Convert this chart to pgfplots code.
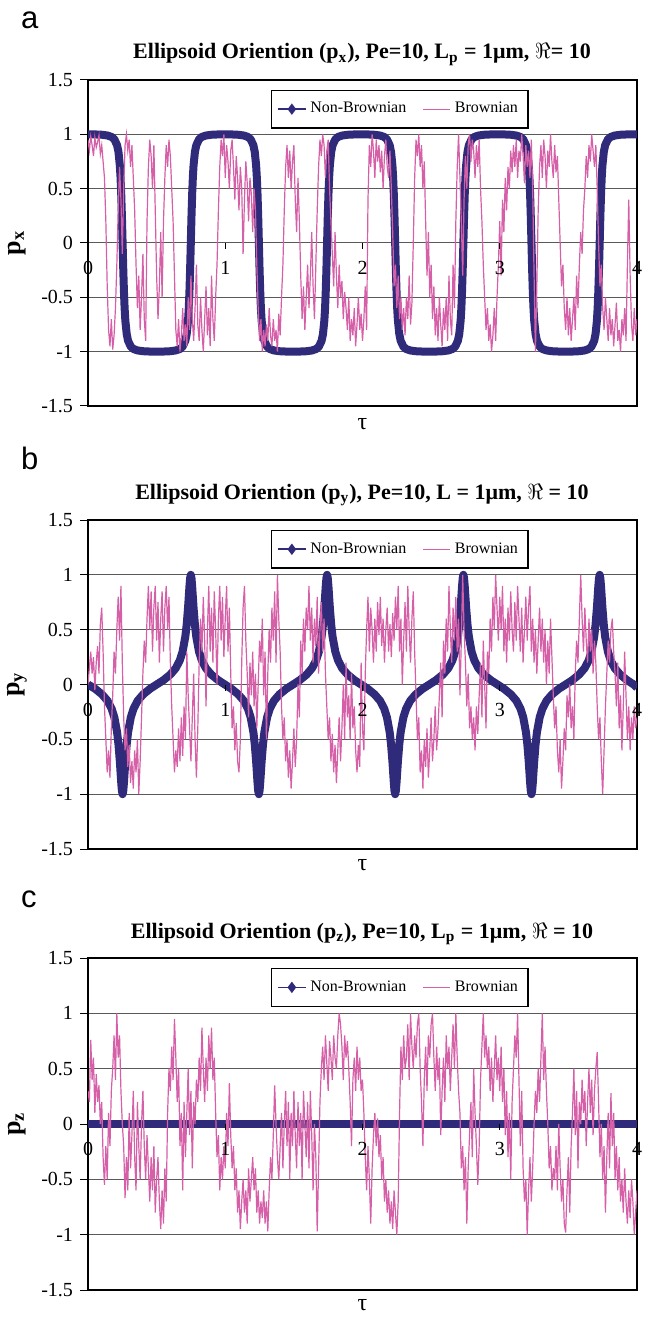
\documentclass[border=0pt]{standalone}
\usepackage{fontspec}
\setmainfont{Liberation Serif}
\newfontfamily\panelfont{Liberation Sans}
\usepackage{pgfplots}
\pgfplotsset{compat=1.18}

\definecolor{nbblue}{RGB}{48,42,122}
\definecolor{bpink}{RGB}{214,96,168}

\pgfplotsset{
  orient/.style={
    scale only axis, width=274.5pt,
    xmin=0, xmax=4, ymin=-1.5, ymax=1.5,
    xtick=\empty,
    ytick={-1.5,-1,-0.5,0,0.5,1,1.5},
    yticklabels={-1.5,-1,-0.5,0,0.5,1,1.5},
    ytick pos=left, ytick align=outside, major tick length=4pt,
    tick style={black, line width=0.5pt},
    ymajorgrids, grid style={black!65, line width=0.5pt},
    axis line style={black, line width=0.8pt},
    yticklabel style={font=\fontsize{10}{12}\selectfont},
    ylabel style={font=\bfseries\fontsize{13}{15}\selectfont, at={(rel axis cs:0,0.5)}, anchor=center, yshift=35.5pt},
    xlabel style={font=\fontsize{12}{14}\selectfont, at={(rel axis cs:0.5,0)}, anchor=base, inner sep=0pt},
    xlabel={τ},
    legend style={at={(rel axis cs:0.333,0.97)}, anchor=north west, draw=black, line width=0.6pt,
      font=\fontsize{8}{9}\selectfont, legend columns=2, inner xsep=3pt, inner ysep=4pt,
      /tikz/every even column/.append style={column sep=6pt}},
    legend image code/.code={\draw[mark repeat=2,mark phase=2,##1] plot coordinates {(0cm,0cm) (0.24cm,0cm) (0.48cm,0cm)};},
    clip mode=individual,
  },
  nb/.style={nbblue, line width=4pt, line join=round, no marks, forget plot},
  br/.style={bpink, line width=0.6pt, no marks},
}

\newcommand{\xnums}{%
  \pgfplotsinvokeforeach{0,1,2,3,4}{\node[font=\fontsize{10}{12}\selectfont] at (axis cs:##1,0) [yshift=-12.5pt] {##1};}%
  \pgfplotsinvokeforeach{1,2,3,4}{\draw[line width=0.5pt] (axis cs:##1,0) -- ++(0pt,-3pt);}%
}

\begin{document}
\begin{tikzpicture}
\useasboundingbox (0,0) rectangle (322pt,-660pt);

% ---------------- panel a : px
\node[font=\panelfont\fontsize{15.5}{16}\selectfont, anchor=base west] at (7pt,-14.5pt) {a};
\node[font=\bfseries\fontsize{11}{13}\selectfont, anchor=base] at (181pt,-29.5pt)
  {Ellipsoid Oriention (p\textsubscript{x}), Pe=10, L\textsubscript{p} = 1μm, $\Re$= 10};
\begin{axis}[orient, at={(44pt,-40pt)}, anchor=north west, height=163pt, ylabel={p\textsubscript{x}},
  xlabel style={yshift=-12pt}]
\addplot[nb] coordinates {(0,1)
(0.052,0.999)(0.102,0.996)(0.142,0.989)(0.172,0.976)(0.192,0.954)(0.212,0.900)(0.222,0.838)(0.232,0.713)(0.237,0.606)(0.242,0.452)(0.247,0.246)(0.252,0)(0.257,-0.246)(0.262,-0.452)(0.267,-0.606)(0.272,-0.713)(0.282,-0.838)(0.292,-0.900)(0.312,-0.954)(0.332,-0.976)(0.362,-0.989)(0.402,-0.996)(0.452,-0.999)(0.500,-1)
(0.549,-0.999)(0.599,-0.996)(0.639,-0.989)(0.669,-0.976)(0.689,-0.954)(0.709,-0.900)(0.719,-0.838)(0.729,-0.713)(0.734,-0.606)(0.739,-0.452)(0.744,-0.246)(0.749,0)(0.754,0.246)(0.759,0.452)(0.764,0.606)(0.769,0.713)(0.779,0.838)(0.789,0.900)(0.809,0.954)(0.829,0.976)(0.859,0.989)(0.899,0.996)(0.949,0.999)(0.997,1)
(1.045,0.999)(1.095,0.996)(1.135,0.989)(1.165,0.976)(1.185,0.954)(1.205,0.900)(1.215,0.838)(1.225,0.713)(1.230,0.606)(1.235,0.452)(1.240,0.246)(1.245,0)(1.250,-0.246)(1.255,-0.452)(1.260,-0.606)(1.265,-0.713)(1.275,-0.838)(1.285,-0.900)(1.305,-0.954)(1.325,-0.976)(1.355,-0.989)(1.395,-0.996)(1.445,-0.999)(1.494,-1)
(1.542,-0.999)(1.592,-0.996)(1.632,-0.989)(1.662,-0.976)(1.682,-0.954)(1.702,-0.900)(1.712,-0.838)(1.722,-0.713)(1.727,-0.606)(1.732,-0.452)(1.737,-0.246)(1.742,0)(1.747,0.246)(1.752,0.452)(1.757,0.606)(1.762,0.713)(1.772,0.838)(1.782,0.900)(1.802,0.954)(1.822,0.976)(1.852,0.989)(1.892,0.996)(1.942,0.999)(1.990,1)
(2.038,0.999)(2.088,0.996)(2.128,0.989)(2.158,0.976)(2.178,0.954)(2.198,0.900)(2.208,0.838)(2.218,0.713)(2.223,0.606)(2.228,0.452)(2.233,0.246)(2.238,0)(2.243,-0.246)(2.248,-0.452)(2.253,-0.606)(2.258,-0.713)(2.268,-0.838)(2.278,-0.900)(2.298,-0.954)(2.318,-0.976)(2.348,-0.989)(2.388,-0.996)(2.438,-0.999)(2.487,-1)
(2.535,-0.999)(2.585,-0.996)(2.625,-0.989)(2.655,-0.976)(2.675,-0.954)(2.695,-0.900)(2.705,-0.838)(2.715,-0.713)(2.720,-0.606)(2.725,-0.452)(2.730,-0.246)(2.735,0)(2.740,0.246)(2.745,0.452)(2.750,0.606)(2.755,0.713)(2.765,0.838)(2.775,0.900)(2.795,0.954)(2.815,0.976)(2.845,0.989)(2.885,0.996)(2.935,0.999)(2.983,1)
(3.031,0.999)(3.081,0.996)(3.121,0.989)(3.151,0.976)(3.171,0.954)(3.191,0.900)(3.201,0.838)(3.211,0.713)(3.216,0.606)(3.221,0.452)(3.226,0.246)(3.231,0)(3.236,-0.246)(3.241,-0.452)(3.246,-0.606)(3.251,-0.713)(3.261,-0.838)(3.271,-0.900)(3.291,-0.954)(3.311,-0.976)(3.341,-0.989)(3.381,-0.996)(3.431,-0.999)(3.480,-1)
(3.528,-0.999)(3.578,-0.996)(3.618,-0.989)(3.648,-0.976)(3.668,-0.954)(3.688,-0.900)(3.698,-0.838)(3.708,-0.713)(3.713,-0.606)(3.718,-0.452)(3.723,-0.246)(3.728,0)(3.733,0.246)(3.738,0.452)(3.743,0.606)(3.748,0.713)(3.758,0.838)(3.768,0.900)(3.788,0.954)(3.808,0.976)(3.838,0.989)(3.878,0.996)(3.928,0.999)(3.976,1)(4.0,1)};
\addlegendimage{nbblue, line width=0.8pt, mark=diamond*, mark size=2.2pt}
\addlegendentry{Non-Brownian}
\addplot[br] coordinates {
(0.00,0.95)(0.01,0.85)(0.02,0.98)(0.03,0.90)(0.04,0.80)(0.05,0.97)(0.06,0.88)(0.07,0.93)(0.08,0.99)(0.09,0.82)
(0.10,0.90)(0.11,0.75)(0.12,0.60)(0.13,0.20)(0.14,-0.40)(0.15,-0.80)(0.16,-0.95)(0.17,-0.70)(0.18,-0.98)(0.19,-0.85)
(0.20,-0.60)(0.21,-0.20)(0.22,0.30)(0.23,0.70)(0.24,0.40)(0.25,-0.10)(0.26,0.50)(0.27,0.90)(0.28,1.00)(0.29,0.85)
(0.30,0.95)(0.31,0.70)(0.32,0.90)(0.33,0.60)(0.34,0.30)(0.35,-0.20)(0.36,-0.60)(0.37,-0.30)(0.38,-0.80)(0.39,-0.50)
(0.40,-0.10)(0.41,-0.70)(0.42,-0.90)(0.43,0.20)(0.44,0.70)(0.45,0.95)(0.46,0.80)(0.47,0.50)(0.48,0.90)(0.49,0.30)
(0.50,-0.30)(0.51,-0.70)(0.52,-0.40)(0.53,0.10)(0.54,-0.50)(0.55,0.20)(0.56,0.60)(0.57,0.90)(0.58,0.70)(0.59,0.95)
(0.60,0.80)(0.61,0.50)(0.62,0.20)(0.63,-0.30)(0.64,-0.80)(0.65,-0.95)(0.66,-0.70)(0.67,-1.00)(0.68,-0.85)(0.69,-0.60)
(0.70,-0.90)(0.71,-0.75)(0.72,-0.95)(0.73,-0.50)(0.74,-0.80)(0.75,-0.30)(0.76,-0.70)(0.77,-0.90)(0.78,-0.60)(0.79,-0.20)
(0.80,-0.75)(0.81,-0.90)(0.82,-0.50)(0.83,-0.80)(0.84,-1.00)(0.85,-0.70)(0.86,-0.40)(0.87,-0.85)(0.88,-0.60)(0.89,-0.95)
(0.90,-0.30)(0.91,-0.70)(0.92,-0.90)(0.93,-0.50)(0.94,-0.20)(0.95,0.30)(0.96,0.70)(0.97,0.95)(0.98,0.80)(0.99,1.00)
(1.00,0.60)(1.01,0.90)(1.02,0.75)(1.03,0.50)(1.04,0.85)(1.05,0.95)(1.06,0.70)(1.07,0.40)(1.08,0.80)(1.09,0.60)
(1.10,0.30)(1.11,0.70)(1.12,0.50)(1.13,-0.10)(1.14,0.40)(1.15,0.75)(1.16,0.55)(1.17,0.20)(1.18,0.60)(1.19,0.45)
(1.20,0.10)(1.21,0.50)(1.22,0.30)(1.23,-0.20)(1.24,-0.60)(1.25,-0.90)(1.26,-0.70)(1.27,-1.00)(1.28,-0.80)(1.29,-0.95)
(1.30,-0.75)(1.31,-0.90)(1.32,-0.60)(1.33,-0.85)(1.34,-0.95)(1.35,-0.70)(1.36,-0.90)(1.37,-0.80)(1.38,-1.00)(1.39,-0.65)
(1.40,-0.85)(1.41,-0.50)(1.42,-0.20)(1.43,0.30)(1.44,0.70)(1.45,0.90)(1.46,0.60)(1.47,0.85)(1.48,0.50)(1.49,0.75)
(1.50,0.90)(1.51,0.40)(1.52,0.10)(1.53,0.60)(1.54,0.20)(1.55,-0.30)(1.56,-0.70)(1.57,-0.40)(1.58,-0.80)(1.59,-0.50)
(1.60,-0.20)(1.61,-0.60)(1.62,-0.30)(1.63,0.10)(1.64,-0.40)(1.65,-0.70)(1.66,-0.20)(1.67,0.30)(1.68,0.70)(1.69,0.95)
(1.70,0.80)(1.71,1.00)(1.72,0.90)(1.73,0.60)(1.74,0.85)(1.75,0.95)(1.76,0.50)(1.77,0.20)(1.78,-0.10)(1.79,-0.40)
(1.80,0.10)(1.81,-0.30)(1.82,-0.60)(1.83,-0.20)(1.84,-0.50)(1.85,-0.35)(1.86,-0.70)(1.87,-0.45)(1.88,-0.60)(1.89,-0.80)
(1.90,-0.50)(1.91,-0.90)(1.92,-0.70)(1.93,-0.85)(1.94,-0.60)(1.95,-0.95)(1.96,-0.75)(1.97,-0.50)(1.98,-0.80)(1.99,-0.65)
(2.00,-0.90)(2.01,-0.70)(2.02,-0.40)(2.03,-0.80)(2.04,0.40)(2.05,0.90)(2.06,0.70)(2.07,1.00)(2.08,0.85)(2.09,0.60)
(2.10,0.95)(2.11,0.75)(2.12,0.90)(2.13,0.65)(2.14,0.85)(2.15,0.50)(2.16,0.80)(2.17,0.95)(2.18,0.70)(2.19,0.60)
(2.20,0.85)(2.21,0.50)(2.22,0.10)(2.23,-0.40)(2.24,-0.20)(2.25,-0.60)(2.26,-0.30)(2.27,-0.70)(2.28,-0.50)(2.29,-0.80)
(2.30,-0.60)(2.31,-0.85)(2.32,-0.50)(2.33,-0.70)(2.34,-0.30)(2.35,-0.75)(2.36,-0.55)(2.37,0.00)(2.38,0.60)(2.39,0.95)
(2.40,0.80)(2.41,1.00)(2.42,0.70)(2.43,0.90)(2.44,0.50)(2.45,0.75)(2.46,0.20)(2.47,-0.30)(2.48,0.10)(2.49,-0.50)
(2.50,-0.20)(2.51,-0.70)(2.52,-0.40)(2.53,-0.85)(2.54,-0.60)(2.55,-0.90)(2.56,-0.50)(2.57,-0.75)(2.58,-0.95)(2.59,-0.60)
(2.60,-0.80)(2.61,-0.50)(2.62,-0.90)(2.63,-0.30)(2.64,-0.70)(2.65,-0.85)(2.66,-0.20)(2.67,-0.60)(2.68,0.20)(2.69,0.70)
(2.70,1.00)(2.71,0.60)(2.72,0.20)(2.73,-0.30)(2.74,0.40)(2.75,0.80)(2.76,0.50)(2.77,0.90)(2.78,1.00)(2.79,0.75)
(2.80,0.95)(2.81,0.85)(2.82,0.60)(2.83,0.90)(2.84,0.70)(2.85,0.95)(2.86,0.50)(2.87,0.20)(2.88,-0.20)(2.89,-0.50)
(2.90,-0.80)(2.91,-0.60)(2.92,-0.90)(2.93,-0.75)(2.94,-1.00)(2.95,-0.85)(2.96,-0.60)(2.97,-0.90)(2.98,-0.50)(2.99,-0.20)
(3.00,0.20)(3.01,-0.30)(3.02,0.40)(3.03,0.10)(3.04,0.60)(3.05,0.30)(3.06,0.70)(3.07,0.50)(3.08,0.85)(3.09,0.65)
(3.10,0.90)(3.11,0.70)(3.12,0.95)(3.13,0.60)(3.14,0.85)(3.15,0.75)(3.16,1.00)(3.17,0.80)(3.18,0.55)(3.19,0.90)
(3.20,0.70)(3.21,0.85)(3.22,0.60)(3.23,0.95)(3.24,0.50)(3.25,-0.30)(3.26,-1.00)(3.27,-0.40)(3.28,0.30)(3.29,0.70)
(3.30,0.90)(3.31,0.60)(3.32,0.95)(3.33,0.80)(3.34,0.50)(3.35,0.85)(3.36,0.70)(3.37,1.00)(3.38,0.75)(3.39,0.60)
(3.40,0.90)(3.41,0.65)(3.42,0.80)(3.43,0.40)(3.44,0.00)(3.45,-0.40)(3.46,-0.20)(3.47,-0.60)(3.48,-0.80)(3.49,-0.50)
(3.50,-0.85)(3.51,-0.60)(3.52,-0.90)(3.53,-0.70)(3.54,-0.50)(3.55,-0.80)(3.56,-0.30)(3.57,-0.60)(3.58,-0.20)(3.59,0.10)
(3.60,-0.10)(3.61,0.30)(3.62,0.50)(3.63,0.80)(3.64,0.60)(3.65,0.90)(3.66,0.75)(3.67,1.00)(3.68,0.85)(3.69,0.70)
(3.70,0.90)(3.71,0.50)(3.72,0.00)(3.73,-0.40)(3.74,-0.20)(3.75,-0.60)(3.76,-0.80)(3.77,-0.50)(3.78,-0.70)(3.79,-0.90)
(3.80,-0.60)(3.81,-0.85)(3.82,-0.70)(3.83,-0.95)(3.84,-0.75)(3.85,-0.55)(3.86,-0.90)(3.87,-0.80)(3.88,-1.00)(3.89,-0.70)
(3.90,-0.85)(3.91,-0.60)(3.92,-0.90)(3.93,-0.20)(3.94,0.40)(3.95,-0.30)(3.96,-0.75)(3.97,-0.90)(3.98,-0.60)(3.99,-0.85)
(4.00,-0.70)};
\addlegendentry{Brownian}
\xnums
\end{axis}

% ---------------- panel b : py
\node[font=\panelfont\fontsize{15.5}{16}\selectfont, anchor=base west] at (7pt,-234.5pt) {b};
\node[font=\bfseries\fontsize{11}{13}\selectfont, anchor=base] at (181pt,-249.5pt)
  {Ellipsoid Oriention (p\textsubscript{y}), Pe=10, L = 1μm, $\Re$ = 10};
\begin{axis}[orient, at={(44pt,-260pt)}, anchor=north west, height=164.5pt, ylabel={p\textsubscript{y}},
  xlabel style={yshift=-10.5pt}]
\addplot[nb] coordinates {(0,0)
(0.052,-0.039)(0.102,-0.090)(0.142,-0.148)(0.172,-0.220)(0.192,-0.299)(0.212,-0.435)(0.222,-0.545)(0.232,-0.701)(0.237,-0.796)(0.242,-0.892)(0.247,-0.969)(0.252,-1)(0.257,-0.969)(0.262,-0.892)(0.267,-0.796)(0.272,-0.701)(0.282,-0.545)(0.292,-0.435)(0.312,-0.299)(0.332,-0.220)(0.362,-0.148)(0.402,-0.090)(0.452,-0.039)(0.500,0)
(0.549,0.039)(0.599,0.090)(0.639,0.148)(0.669,0.220)(0.689,0.299)(0.709,0.435)(0.719,0.545)(0.729,0.701)(0.734,0.796)(0.739,0.892)(0.744,0.969)(0.749,1)(0.754,0.969)(0.759,0.892)(0.764,0.796)(0.769,0.701)(0.779,0.545)(0.789,0.435)(0.809,0.299)(0.829,0.220)(0.859,0.148)(0.899,0.090)(0.949,0.039)(0.997,0)
(1.045,-0.039)(1.095,-0.090)(1.135,-0.148)(1.165,-0.220)(1.185,-0.299)(1.205,-0.435)(1.215,-0.545)(1.225,-0.701)(1.230,-0.796)(1.235,-0.892)(1.240,-0.969)(1.245,-1)(1.250,-0.969)(1.255,-0.892)(1.260,-0.796)(1.265,-0.701)(1.275,-0.545)(1.285,-0.435)(1.305,-0.299)(1.325,-0.220)(1.355,-0.148)(1.395,-0.090)(1.445,-0.039)(1.494,0)
(1.542,0.039)(1.592,0.090)(1.632,0.148)(1.662,0.220)(1.682,0.299)(1.702,0.435)(1.712,0.545)(1.722,0.701)(1.727,0.796)(1.732,0.892)(1.737,0.969)(1.742,1)(1.747,0.969)(1.752,0.892)(1.757,0.796)(1.762,0.701)(1.772,0.545)(1.782,0.435)(1.802,0.299)(1.822,0.220)(1.852,0.148)(1.892,0.090)(1.942,0.039)(1.990,0)
(2.038,-0.039)(2.088,-0.090)(2.128,-0.148)(2.158,-0.220)(2.178,-0.299)(2.198,-0.435)(2.208,-0.545)(2.218,-0.701)(2.223,-0.796)(2.228,-0.892)(2.233,-0.969)(2.238,-1)(2.243,-0.969)(2.248,-0.892)(2.253,-0.796)(2.258,-0.701)(2.268,-0.545)(2.278,-0.435)(2.298,-0.299)(2.318,-0.220)(2.348,-0.148)(2.388,-0.090)(2.438,-0.039)(2.487,0)
(2.535,0.039)(2.585,0.090)(2.625,0.148)(2.655,0.220)(2.675,0.299)(2.695,0.435)(2.705,0.545)(2.715,0.701)(2.720,0.796)(2.725,0.892)(2.730,0.969)(2.735,1)(2.740,0.969)(2.745,0.892)(2.750,0.796)(2.755,0.701)(2.765,0.545)(2.775,0.435)(2.795,0.299)(2.815,0.220)(2.845,0.148)(2.885,0.090)(2.935,0.039)(2.983,0)
(3.031,-0.039)(3.081,-0.090)(3.121,-0.148)(3.151,-0.220)(3.171,-0.299)(3.191,-0.435)(3.201,-0.545)(3.211,-0.701)(3.216,-0.796)(3.221,-0.892)(3.226,-0.969)(3.231,-1)(3.236,-0.969)(3.241,-0.892)(3.246,-0.796)(3.251,-0.701)(3.261,-0.545)(3.271,-0.435)(3.291,-0.299)(3.311,-0.220)(3.341,-0.148)(3.381,-0.090)(3.431,-0.039)(3.480,0)
(3.528,0.039)(3.578,0.090)(3.618,0.148)(3.648,0.220)(3.668,0.299)(3.688,0.435)(3.698,0.545)(3.708,0.701)(3.713,0.796)(3.718,0.892)(3.723,0.969)(3.728,1)(3.733,0.969)(3.738,0.892)(3.743,0.796)(3.748,0.701)(3.758,0.545)(3.768,0.435)(3.788,0.299)(3.808,0.220)(3.838,0.148)(3.878,0.090)(3.928,0.039)(3.976,0)(4.0,-0.03)};
\addlegendimage{nbblue, line width=0.8pt, mark=diamond*, mark size=2.2pt}
\addlegendentry{Non-Brownian}
\addplot[br] coordinates {
(0.00,0.00)(0.01,0.15)(0.02,0.30)(0.03,0.10)(0.04,0.25)(0.05,-0.05)(0.06,0.20)(0.07,0.35)(0.08,0.10)(0.09,0.55)
(0.10,0.70)(0.11,0.30)(0.12,-0.20)(0.13,-0.50)(0.14,-0.80)(0.15,-0.60)(0.16,-0.85)(0.17,-0.40)(0.18,-0.10)(0.19,0.30)
(0.20,0.10)(0.21,0.50)(0.22,0.80)(0.23,0.40)(0.24,0.90)(0.25,0.20)(0.26,-0.30)(0.27,-0.60)(0.28,-0.40)(0.29,-0.75)
(0.30,-0.55)(0.31,-0.90)(0.32,-0.70)(0.33,-0.95)(0.34,-0.60)(0.35,-0.80)(0.36,-0.50)(0.37,-1.00)(0.38,-0.70)(0.39,-0.30)
(0.40,0.10)(0.41,0.40)(0.42,0.20)(0.43,0.60)(0.44,0.90)(0.45,0.50)(0.46,0.85)(0.47,0.30)(0.48,0.70)(0.49,0.90)
(0.50,0.40)(0.51,0.75)(0.52,0.20)(0.53,0.60)(0.54,0.85)(0.55,0.30)(0.56,0.70)(0.57,0.90)(0.58,0.50)(0.59,0.80)
(0.60,0.20)(0.61,-0.20)(0.62,-0.50)(0.63,-0.80)(0.64,-0.60)(0.65,-0.75)(0.66,-0.40)(0.67,-0.70)(0.68,-0.30)(0.69,-0.65)
(0.70,-0.20)(0.71,-0.50)(0.72,0.30)(0.73,-0.10)(0.74,-0.40)(0.75,-0.70)(0.76,-0.30)(0.77,0.10)(0.78,-0.50)(0.79,-0.85)
(0.80,-0.40)(0.81,0.20)(0.82,0.60)(0.83,0.30)(0.84,0.80)(0.85,0.40)(0.86,-0.20)(0.87,0.50)(0.88,0.90)(0.89,0.30)
(0.90,0.70)(0.91,0.20)(0.92,0.85)(0.93,0.50)(0.94,0.00)(0.95,0.60)(0.96,0.90)(0.97,0.40)(0.98,0.80)(0.99,0.25)
(1.00,0.60)(1.01,0.90)(1.02,0.30)(1.03,0.70)(1.04,0.10)(1.05,-0.40)(1.06,-0.20)(1.07,-0.60)(1.08,-0.35)(1.09,-0.70)
(1.10,-0.80)(1.11,-0.50)(1.12,0.20)(1.13,0.70)(1.14,0.90)(1.15,0.40)(1.16,0.10)(1.17,-0.30)(1.18,0.20)(1.19,-0.10)
(1.20,0.30)(1.21,-0.20)(1.22,0.10)(1.23,-0.40)(1.24,0.00)(1.25,0.40)(1.26,0.20)(1.27,0.60)(1.28,-0.10)(1.29,0.30)
(1.30,-0.50)(1.31,0.10)(1.32,0.50)(1.33,0.20)(1.34,0.70)(1.35,0.40)(1.36,0.85)(1.37,0.20)(1.38,1.00)(1.39,0.60)
(1.40,0.30)(1.41,-0.20)(1.42,-0.50)(1.43,-0.30)(1.44,-0.70)(1.45,-0.50)(1.46,-0.85)(1.47,-0.60)(1.48,-0.95)(1.49,-0.70)
(1.50,-0.40)(1.51,-0.75)(1.52,-0.50)(1.53,0.00)(1.54,-0.30)(1.55,0.40)(1.56,0.10)(1.57,0.60)(1.58,0.30)(1.59,0.70)
(1.60,0.50)(1.61,0.90)(1.62,0.40)(1.63,0.70)(1.64,0.20)(1.65,0.60)(1.66,0.35)(1.67,0.80)(1.68,0.10)(1.69,0.50)
(1.70,0.75)(1.71,0.30)(1.72,0.60)(1.73,0.10)(1.74,-0.20)(1.75,-0.50)(1.76,-0.30)(1.77,-0.70)(1.78,-0.45)(1.79,-0.80)
(1.80,-0.55)(1.81,-0.90)(1.82,-0.60)(1.83,-0.30)(1.84,-0.70)(1.85,-0.40)(1.86,0.00)(1.87,-0.50)(1.88,0.20)(1.89,-0.30)
(1.90,-0.10)(1.91,-0.50)(1.92,0.10)(1.93,-0.40)(1.94,-0.20)(1.95,-0.60)(1.96,-0.80)(1.97,-0.55)(1.98,-0.75)(1.99,0.20)
(2.00,-0.40)(2.01,-0.60)(2.02,0.10)(2.03,0.50)(2.04,0.80)(2.05,0.30)(2.06,0.70)(2.07,0.50)(2.08,0.20)(2.09,0.60)
(2.10,0.30)(2.11,0.75)(2.12,0.45)(2.13,0.80)(2.14,0.35)(2.15,0.60)(2.16,0.20)(2.17,0.50)(2.18,0.70)(2.19,0.30)
(2.20,0.55)(2.21,0.25)(2.22,0.65)(2.23,0.40)(2.24,0.80)(2.25,0.50)(2.26,0.90)(2.27,0.30)(2.28,0.60)(2.29,0.00)
(2.30,0.40)(2.31,0.75)(2.32,0.30)(2.33,0.90)(2.34,0.50)(2.35,0.20)(2.36,0.60)(2.37,0.85)(2.38,0.30)(2.39,-0.10)
(2.40,-0.50)(2.41,-0.30)(2.42,-0.80)(2.43,-0.60)(2.44,-0.95)(2.45,-0.50)(2.46,-0.75)(2.47,-0.40)(2.48,-0.85)(2.49,-0.60)
(2.50,-0.30)(2.51,-0.70)(2.52,-0.50)(2.53,-0.20)(2.54,-0.60)(2.55,-0.40)(2.56,-0.10)(2.57,0.20)(2.58,-0.30)(2.59,0.40)
(2.60,0.10)(2.61,0.60)(2.62,0.30)(2.63,0.90)(2.64,0.50)(2.65,0.20)(2.66,0.70)(2.67,0.40)(2.68,0.80)(2.69,0.30)
(2.70,0.60)(2.71,-0.10)(2.72,0.40)(2.73,1.00)(2.74,0.50)(2.75,0.20)(2.76,-0.20)(2.77,0.10)(2.78,-0.40)(2.79,-0.20)
(2.80,-0.50)(2.81,-0.30)(2.82,-0.60)(2.83,-0.20)(2.84,-0.45)(2.85,-0.10)(2.86,0.20)(2.87,-0.30)(2.88,0.40)(2.89,0.00)
(2.90,-0.40)(2.91,0.30)(2.92,0.10)(2.93,0.60)(2.94,0.30)(2.95,0.80)(2.96,0.50)(2.97,1.00)(2.98,0.70)(2.99,0.40)
(3.00,0.80)(3.01,0.50)(3.02,0.90)(3.03,0.30)(3.04,0.60)(3.05,0.20)(3.06,0.70)(3.07,0.40)(3.08,0.85)(3.09,0.50)
(3.10,0.30)(3.11,0.75)(3.12,0.40)(3.13,0.90)(3.14,0.60)(3.15,0.30)(3.16,0.70)(3.17,0.20)(3.18,0.50)(3.19,0.80)
(3.20,0.40)(3.21,0.70)(3.22,0.90)(3.23,0.30)(3.24,0.60)(3.25,0.20)(3.26,0.50)(3.27,0.10)(3.28,0.40)(3.29,0.70)
(3.30,0.30)(3.31,0.60)(3.32,0.20)(3.33,0.50)(3.34,0.00)(3.35,0.40)(3.36,0.10)(3.37,0.60)(3.38,0.25)(3.39,-0.10)
(3.40,-0.40)(3.41,-0.20)(3.42,-0.60)(3.43,-0.80)(3.44,-0.50)(3.45,-0.95)(3.46,-0.70)(3.47,-0.40)(3.48,-0.60)(3.49,-0.10)
(3.50,-0.30)(3.51,0.00)(3.52,-0.40)(3.53,-0.20)(3.54,-0.50)(3.55,0.10)(3.56,0.40)(3.57,0.20)(3.58,0.60)(3.59,1.00)
(3.60,0.60)(3.61,0.30)(3.62,0.70)(3.63,0.40)(3.64,0.20)(3.65,0.60)(3.66,0.30)(3.67,0.50)(3.68,0.10)(3.69,0.40)
(3.70,0.20)(3.71,-0.20)(3.72,-0.50)(3.73,-0.30)(3.74,-0.70)(3.75,-1.00)(3.76,-0.60)(3.77,-0.20)(3.78,0.10)(3.79,0.40)
(3.80,0.20)(3.81,0.50)(3.82,0.60)(3.83,0.30)(3.84,0.10)(3.85,-0.20)(3.86,0.20)(3.87,-0.40)(3.88,-0.10)(3.89,-0.60)
(3.90,-0.20)(3.91,0.30)(3.92,-0.10)(3.93,-0.50)(3.94,-0.20)(3.95,-0.60)(3.96,-0.30)(3.97,-0.50)(3.98,-0.20)(3.99,-0.40)
(4.00,-0.30)};
\addlegendentry{Brownian}
\xnums
\end{axis}

% ---------------- panel c : pz
\node[font=\panelfont\fontsize{15.5}{16}\selectfont, anchor=base west] at (7pt,-453.5pt) {c};
\node[font=\bfseries\fontsize{11}{13}\selectfont, anchor=base] at (181pt,-469pt)
  {Ellipsoid Oriention (p\textsubscript{z}), Pe=10, L\textsubscript{p} = 1μm, $\Re$ = 10};
\begin{axis}[orient, at={(44pt,-479pt)}, anchor=north west, height=166pt, ylabel={p\textsubscript{z}},
  xlabel style={yshift=-10pt}]
\addplot[nb] coordinates {(0,0)(1,0)(2,0)(3,0)(4,0)};
\addlegendimage{nbblue, line width=0.8pt, mark=diamond*, mark size=2.2pt}
\addlegendentry{Non-Brownian}
\addplot[br] coordinates {
(0.00,0.30)(0.01,0.20)(0.02,0.76)(0.03,0.40)(0.04,0.60)(0.05,0.10)(0.06,0.45)(0.07,0.20)(0.08,0.35)(0.09,0.00)
(0.10,0.20)(0.11,-0.30)(0.12,-0.55)(0.13,-0.20)(0.14,-0.50)(0.15,0.10)(0.16,-0.20)(0.17,0.30)(0.18,0.50)(0.19,0.80)
(0.20,0.40)(0.21,1.00)(0.22,0.60)(0.23,0.80)(0.24,0.30)(0.25,0.00)(0.26,-0.20)(0.27,-0.67)(0.28,-0.30)(0.29,-0.60)
(0.30,0.10)(0.31,-0.40)(0.32,-0.10)(0.33,0.30)(0.34,-0.30)(0.35,-0.60)(0.36,0.20)(0.37,-0.20)(0.38,-0.50)(0.39,0.00)
(0.40,0.30)(0.41,-0.20)(0.42,-0.50)(0.43,-0.10)(0.44,-0.40)(0.45,-0.70)(0.46,-0.30)(0.47,-0.60)(0.48,-0.20)(0.49,-0.80)
(0.50,-0.50)(0.51,-0.30)(0.52,-0.70)(0.53,-0.95)(0.54,-0.60)(0.55,-0.90)(0.56,-0.40)(0.57,-0.70)(0.58,0.10)(0.59,0.50)
(0.60,0.30)(0.61,0.70)(0.62,0.40)(0.63,0.95)(0.64,0.60)(0.65,0.20)(0.66,0.50)(0.67,-0.20)(0.68,0.10)(0.69,-0.60)
(0.70,0.20)(0.71,-0.30)(0.72,0.10)(0.73,0.50)(0.74,-0.10)(0.75,0.30)(0.76,-0.40)(0.77,0.20)(0.78,0.00)(0.79,0.40)
(0.80,0.20)(0.81,0.60)(0.82,0.30)(0.83,0.87)(0.84,0.50)(0.85,0.20)(0.86,0.60)(0.87,0.30)(0.88,0.80)(0.89,0.50)
(0.90,0.87)(0.91,0.40)(0.92,0.60)(0.93,0.10)(0.94,-0.30)(0.95,-0.10)(0.96,-0.60)(0.97,-0.30)(0.98,-0.50)(0.99,-0.20)
(1.00,-0.40)(1.01,0.10)(1.02,-0.20)(1.03,0.37)(1.04,-0.10)(1.05,-0.40)(1.06,-0.20)(1.07,-0.60)(1.08,-0.40)(1.09,-0.80)
(1.10,-0.60)(1.11,-0.95)(1.12,-0.70)(1.13,-0.50)(1.14,-0.80)(1.15,-0.60)(1.16,-0.90)(1.17,-0.40)(1.18,-0.70)(1.19,-0.50)
(1.20,-0.30)(1.21,-0.60)(1.22,-0.40)(1.23,-0.80)(1.24,-0.60)(1.25,-0.90)(1.26,-0.70)(1.27,-0.85)(1.28,-0.60)(1.29,-0.90)
(1.30,-0.70)(1.31,-0.97)(1.32,-0.60)(1.33,-0.30)(1.34,-0.50)(1.35,-0.10)(1.36,0.35)(1.37,0.00)(1.38,-0.30)(1.39,-0.50)
(1.40,-0.20)(1.41,0.10)(1.42,-0.40)(1.43,0.00)(1.44,0.30)(1.45,-0.20)(1.46,0.20)(1.47,-0.50)(1.48,0.10)(1.49,-0.20)
(1.50,0.30)(1.51,-0.10)(1.52,-0.40)(1.53,0.20)(1.54,-0.20)(1.55,0.10)(1.56,-0.50)(1.57,0.30)(1.58,0.00)(1.59,-0.30)
(1.60,0.20)(1.61,-0.40)(1.62,0.30)(1.63,-0.10)(1.64,-0.60)(1.65,0.00)(1.66,-0.30)(1.67,-0.97)(1.68,-0.40)(1.69,0.20)
(1.70,0.50)(1.71,0.70)(1.72,0.40)(1.73,0.80)(1.74,0.55)(1.75,0.30)(1.76,0.75)(1.77,0.60)(1.78,0.40)(1.79,0.80)
(1.80,0.60)(1.81,0.50)(1.82,0.80)(1.83,1.00)(1.84,0.90)(1.85,0.70)(1.86,0.40)(1.87,0.80)(1.88,0.60)(1.89,0.75)
(1.90,0.50)(1.91,0.20)(1.92,-0.20)(1.93,0.40)(1.94,0.60)(1.95,0.30)(1.96,0.70)(1.97,0.40)(1.98,0.60)(1.99,0.30)
(2.00,0.40)(2.01,0.10)(2.02,-0.30)(2.03,-0.60)(2.04,-0.20)(2.05,-0.50)(2.06,-0.90)(2.07,-0.40)(2.08,-0.10)(2.09,0.10)
(2.10,-0.20)(2.11,0.05)(2.12,-0.30)(2.13,-0.10)(2.14,-0.50)(2.15,-0.30)(2.16,-0.70)(2.17,-0.50)(2.18,-0.80)(2.19,-0.60)
(2.20,-0.90)(2.21,-0.70)(2.22,-0.95)(2.23,-0.60)(2.24,-0.80)(2.25,-1.00)(2.26,-0.70)(2.27,0.10)(2.28,0.70)(2.29,0.40)
(2.30,0.80)(2.31,0.50)(2.32,0.60)(2.33,0.90)(2.34,0.40)(2.35,1.00)(2.36,0.70)(2.37,0.50)(2.38,0.80)(2.39,0.60)
(2.40,0.90)(2.41,1.00)(2.42,0.50)(2.43,0.20)(2.44,-0.20)(2.45,0.40)(2.46,0.70)(2.47,0.30)(2.48,0.80)(2.49,0.60)
(2.50,0.90)(2.51,1.00)(2.52,0.60)(2.53,0.30)(2.54,0.70)(2.55,0.40)(2.56,0.60)(2.57,-0.10)(2.58,0.30)(2.59,0.60)
(2.60,0.20)(2.61,0.80)(2.62,0.50)(2.63,0.70)(2.64,0.30)(2.65,0.60)(2.66,0.90)(2.67,0.50)(2.68,1.00)(2.69,0.60)
(2.70,0.30)(2.71,0.10)(2.72,-0.40)(2.73,-0.20)(2.74,-0.60)(2.75,-0.30)(2.76,-0.90)(2.77,-0.40)(2.78,-0.10)(2.79,0.20)
(2.80,-0.30)(2.81,0.50)(2.82,0.10)(2.83,-0.20)(2.84,-0.55)(2.85,-0.20)(2.86,0.40)(2.87,0.70)(2.88,1.00)(2.89,0.60)
(2.90,0.80)(2.91,0.50)(2.92,0.70)(2.93,0.30)(2.94,0.60)(2.95,0.20)(2.96,0.50)(2.97,0.80)(2.98,0.40)(2.99,0.60)
(3.00,0.30)(3.01,0.70)(3.02,0.20)(3.03,0.50)(3.04,-0.10)(3.05,0.30)(3.06,-0.30)(3.07,0.10)(3.08,-0.50)(3.09,0.20)
(3.10,0.50)(3.11,0.80)(3.12,0.60)(3.13,1.00)(3.14,0.40)(3.15,-0.20)(3.16,0.30)(3.17,-0.40)(3.18,-0.70)(3.19,-0.50)
(3.20,-1.00)(3.21,-0.60)(3.22,-0.30)(3.23,-0.70)(3.24,-0.40)(3.25,0.00)(3.26,0.30)(3.27,0.10)(3.28,0.50)(3.29,0.20)
(3.30,0.60)(3.31,1.00)(3.32,0.40)(3.33,0.70)(3.34,0.30)(3.35,0.00)(3.36,-0.40)(3.37,-0.20)(3.38,-0.60)(3.39,-0.40)
(3.40,-0.50)(3.41,-0.20)(3.42,-0.60)(3.43,0.00)(3.44,-0.40)(3.45,-0.70)(3.46,-0.50)(3.47,-0.90)(3.48,-0.98)(3.49,-0.60)
(3.50,-0.30)(3.51,-0.80)(3.52,-0.20)(3.53,0.10)(3.54,0.50)(3.55,-0.10)(3.56,0.30)(3.57,-0.40)(3.58,0.20)(3.59,0.00)
(3.60,0.40)(3.61,0.10)(3.62,0.30)(3.63,-0.20)(3.64,0.20)(3.65,0.50)(3.66,0.10)(3.67,0.40)(3.68,-0.10)(3.69,0.30)
(3.70,0.50)(3.71,0.65)(3.72,0.20)(3.73,-0.30)(3.74,0.00)(3.75,-0.50)(3.76,-0.20)(3.77,-0.80)(3.78,-0.30)(3.79,0.10)
(3.80,-0.40)(3.81,0.28)(3.82,-0.20)(3.83,0.10)(3.84,-0.50)(3.85,-0.20)(3.86,-0.60)(3.87,-0.30)(3.88,-0.70)(3.89,-0.50)
(3.90,-0.80)(3.91,-0.40)(3.92,-0.70)(3.93,-0.90)(3.94,-0.60)(3.95,-0.85)(3.96,-0.50)(3.97,-0.70)(3.98,-1.00)(3.99,-0.80)
(4.00,-0.60)};
\addlegendentry{Brownian}
\xnums
\end{axis}
\end{tikzpicture}
\end{document}
